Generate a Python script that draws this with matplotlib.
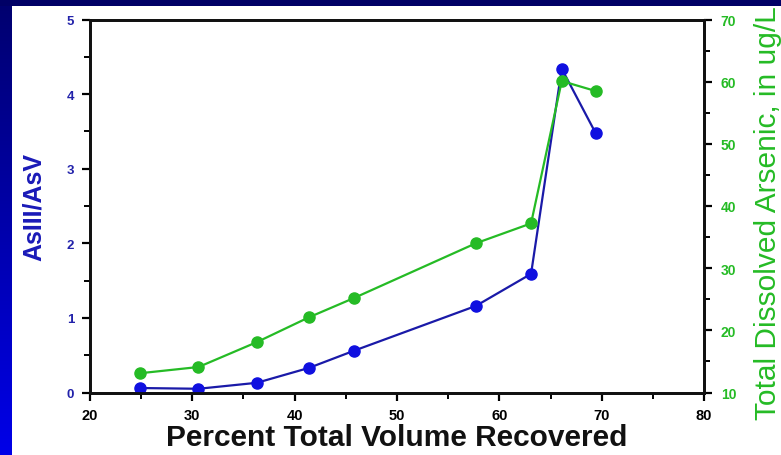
import numpy as np
import matplotlib
matplotlib.use("Agg")
import matplotlib.pyplot as plt
from matplotlib.ticker import MultipleLocator

plt.rcParams['font.family'] = ['Liberation Sans', 'DejaVu Sans']

# percent of total volume recovered at each sample
pct_recovered = [24.9, 30.6, 36.3, 41.4, 45.8, 57.7, 63.1, 66.1, 69.4]
as_ratio = [0.06, 0.05, 0.13, 0.33, 0.56, 1.16, 1.59, 4.34, 3.48]       # AsIII/AsV
total_as = [13.1, 14.1, 18.1, 22.1, 25.2, 34.0, 37.2, 60.1, 58.5]       # ug/L

BLUE = "#1010e0"
BLUE_LINE = "#1a1aa8"
GREEN = "#25bb25"

fig = plt.figure(figsize=(7.81, 4.56), dpi=100, facecolor="white")
W, H = 781, 456

# slide frame: navy band on top, gradient strip on the left
band = fig.add_axes([0, 1 - 7 / H, 1, 7 / H])
band.set_facecolor("#000066")
band.set_xticks([]); band.set_yticks([])
for s in band.spines.values():
    s.set_visible(False)

strip = fig.add_axes([0, 0, 12 / W, 1 - 7 / H])
grad = np.linspace(0, 1, 256).reshape(-1, 1)
cmap = matplotlib.colors.LinearSegmentedColormap.from_list("navy", ["#0000e8", "#000070"])
strip.imshow(grad, aspect="auto", cmap=cmap, origin="lower")
strip.axis("off")

ax = fig.add_axes([90 / W, 1 - 393.5 / H, (704 - 90) / W, (393.5 - 20.5) / H])
ax2 = ax.twinx()

ax.plot(pct_recovered, as_ratio, color=BLUE_LINE, lw=1.6, marker="o", ms=8,
        mfc=BLUE, mec=BLUE, zorder=3)
ax2.plot(pct_recovered, total_as, color=GREEN, lw=1.6, marker="o", ms=8,
         mfc=GREEN, mec=GREEN, zorder=2)

ax.set_xlim(20, 80)
ax.set_ylim(0, 5)
ax2.set_ylim(10, 70)

ax.xaxis.set_major_locator(MultipleLocator(10))
ax.xaxis.set_minor_locator(MultipleLocator(5))
ax.yaxis.set_major_locator(MultipleLocator(1))
ax.yaxis.set_minor_locator(MultipleLocator(0.5))
ax2.yaxis.set_major_locator(MultipleLocator(10))
ax2.yaxis.set_minor_locator(MultipleLocator(5))

for a in (ax, ax2):
    for s in a.spines.values():
        s.set_linewidth(2)
        s.set_color("#111111")

ax.tick_params(axis="x", which="major", length=6, width=1.6, direction="out",
               labelsize=10.5, pad=5, top=False)
ax.tick_params(axis="x", which="minor", length=4, width=1.4, direction="out", top=False)
ax.tick_params(axis="y", which="major", length=5.5, width=1.6, direction="out",
               labelsize=9.5, labelcolor="#2222aa", pad=6)
ax.tick_params(axis="y", which="minor", length=4, width=1.4, direction="out")
ax2.tick_params(axis="y", which="major", length=6, width=1.6, direction="out",
                labelsize=10, labelcolor=GREEN, pad=6)
ax2.tick_params(axis="y", which="minor", length=4, width=1.4, direction="out")

for lab in ax.get_xticklabels() + ax.get_yticklabels() + ax2.get_yticklabels():
    lab.set_fontweight("bold")

ax.set_xlabel("Percent Total Volume Recovered", fontsize=21.5, fontweight="bold",
              color="#111111", labelpad=1)
ax.set_ylabel("AsIII/AsV", fontsize=18, fontweight="bold", color="#1a1ab8",
              labelpad=15)
fig.text(768 / W, 1 - 420 / H, "Total Dissolved Arsenic, in ug/L", fontsize=21.5,
         color=GREEN, rotation=90, ha="center", va="bottom")

fig.savefig("out.png", dpi=100, facecolor="white")
